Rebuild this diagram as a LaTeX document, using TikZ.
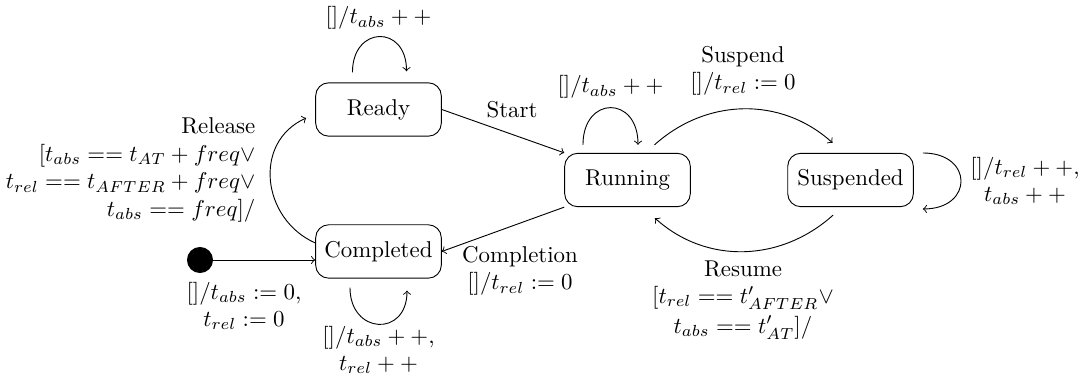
\documentclass[tikz,border=0pt]{standalone}
\usepackage{amssymb}
\usepackage{tikz}
\usetikzlibrary{
    arrows,
    calc,
    positioning
}

\begin{document}
\begin{tikzpicture}[
    statebox/.style={draw, rounded corners=2mm, minimum width=1.93cm, minimum height=0.82cm},
    initdot/.style={circle, fill, inner sep=0pt, minimum size=0.4cm},
    lbl/.style={align=center}
]
    \useasboundingbox (0, 0) rectangle (16.651, 5.791);

    \node[statebox] (ready) at (5.814, 4.109) {Ready};
    \node[statebox] (running) at (9.639, 3.026) {Running};
    \node[statebox] (suspended) at (13.065, 3.026) {Suspended};
    \node[statebox] (completed) at (5.814, 1.928) {Completed};
    \node[initdot] (init) at (3.072, 1.797) {};

    \draw[->] (init) -- (init -| completed.west);
    \draw[->] (ready.east) -- (running.north west);
    \draw[->] (running.south west) -- (completed.east);
    \draw[->] ([yshift=0.131cm]completed.west)
        to[out=156, in=204, looseness=1.2] ([shift={(-0.138, -0.131)}]ready.west);
    \draw[->] ([shift={(0.415, 0.123)}]running.north)
        to[out=42, in=138] ([shift={(-0.277, 0.154)}]suspended.north);
    \draw[->] ([shift={(-0.269, -0.123)}]suspended.south)
        to[out=222, in=318] ([shift={(0.422, -0.169)}]running.south);

    \draw[->] ([shift={(-0.40, 0.154)}]ready.north)
        .. controls +(0, 0.72) and +(0, 0.72) .. ([shift={(0.43, 0.17)}]ready.north);
    \draw[->] ([shift={(-0.684, 0.123)}]running.north)
        .. controls +(0, 0.76) and +(0, 0.76) .. ([shift={(0.161, 0.123)}]running.north);
    \draw[->] ([shift={(-0.438, -0.138)}]completed.south)
        .. controls +(0, -0.72) and +(0, -0.72) .. ([shift={(0.438, -0.184)}]completed.south);
    \draw[->] ([shift={(0.138, 0.415)}]suspended.east)
        .. controls +(0.78, 0) and +(0.78, 0) .. ([shift={(0.138, -0.445)}]suspended.east);

    \node (readyloop) at (5.814, 5.515) {$[]/t_{abs}++$};
    \node (runningloop) at (9.378, 4.455) {$[]/t_{abs}++$};
    \node[lbl] (suspend) at (11.413, 4.700) {Suspend\\$[]/t_{rel} := 0$};
    \node (start) at (7.865, 4.101) {Start};
    \node[align=right, anchor=east, inner sep=0pt] (release) at (3.93, 3.180)
        {Release\\$[t_{abs} == t_{AT} + freq\vee$\\$t_{rel} == t_{AFTER} + freq\vee$\\$t_{abs} == freq]/$};
    \node[lbl] (initlbl) at (3.748, 1.091) {$[]/t_{abs} := 0,$\\$t_{rel} := 0$};
    \node[lbl] (completion) at (7.988, 1.628) {Completion\\$[]/t_{rel} := 0$};
    \node[lbl] (completedloop) at (5.814, 0.415) {$[]/t_{abs}++,$\\$t_{rel}++$};
    \node[lbl] (resume) at (11.413, 1.183) {Resume\\$[t_{rel} == t'_{AFTER}\vee$\\[1pt]$t_{abs} == t'_{AT}]/$};
    \node[lbl] (suspendedloop) at (15.745, 3.011) {$[]/t_{rel}++,$\\$t_{abs}++$};
\end{tikzpicture}
\end{document}
